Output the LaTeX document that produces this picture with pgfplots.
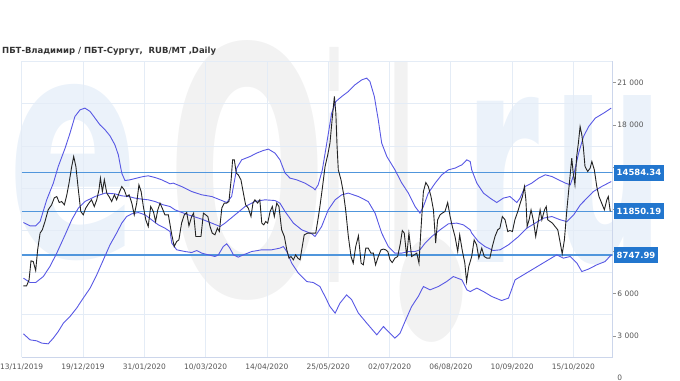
\documentclass[border=0pt]{standalone}
\usepackage{pgfplots}
\pgfplotsset{compat=1.18}
\usepackage{graphicx}
\usepackage{fontspec}
\setmainfont{DejaVu Sans}
\definecolor{bandc}{RGB}{88,88,228}
\definecolor{hlc}{RGB}{80,150,220}
\definecolor{boxc}{RGB}{34,118,206}
\definecolor{gridc}{RGB}{228,236,246}
\definecolor{axc}{RGB}{204,214,235}
\definecolor{wmb}{RGB}{235,242,250}
\definecolor{wmg}{RGB}{242,242,242}
\definecolor{lblc}{RGB}{85,85,85}
\definecolor{pricec}{RGB}{35,35,35}
\begin{document}
\begin{tikzpicture}[x=1bp,y=1bp]
\path[use as bounding box] (0,0) rectangle (680,380);
% watermark
\node[text=wmb, inner sep=0] at (74,207) {\resizebox{132bp}{172bp}{\bfseries e}};
\node[text=wmg, inner sep=0] at (248,210) {\resizebox{160bp}{255bp}{\bfseries O}};
\node[text=wmg, inner sep=0] at (334,215) {\resizebox{18bp}{235bp}{\bfseries i}};
\node[text=wmg, inner sep=0] at (401,224) {\resizebox{26bp}{190bp}{\bfseries l}};
\node[text=wmg, inner sep=0] at (432,90) {\resizebox{72bp}{88bp}{●}};
\node[text=wmb, inner sep=0] at (502,200) {\resizebox{75bp}{165bp}{\bfseries r}};
\node[text=wmb, inner sep=0] at (609,200) {\resizebox{112bp}{165bp}{\bfseries u}};
\node[anchor=west, inner sep=0, text={rgb,255:red,51;green,51;blue,51}, font=\fontsize{8.5}{10}\selectfont\bfseries] at (2,329) {ПБТ-Владимир / ПБТ-Сургут,\ \ RUB/MT ,Daily};
\begin{axis}[
  at={(21.7bp,23bp)}, anchor=south west, scale only axis,
  width=591bp, height=295.5bp,
  xmin=0, xmax=241, ymin=1500, ymax=22500,
  clip mode=individual,
  axis x line*=bottom, axis y line*=right,
  axis line style={draw=axc, line width=0.8bp},
  xtick={0,25,50,75,100,125,150,175,200,225},
  xticklabels={13/11/2019,19/12/2019,31/01/2020,10/03/2020,14/04/2020,25/05/2020,02/07/2020,06/08/2020,10/09/2020,15/10/2020},
  xtick style={draw=none},
  xmajorgrids,
  scaled y ticks=false,
  ytick={3000,6000,9000,12000,15000,18000,21000},
  yticklabels={3 000,6 000,,,,18 000,21 000},
  minor ytick={4500,7500,10500,13500,16500,19500,22500},
  yminorgrids, ymajorgrids=false,
  minor tick length=0pt,
  grid style={draw=gridc, line width=0.8bp},
  minor grid style={draw=gridc, line width=0.8bp},
  ytick pos=right, yticklabel pos=right,
  tick align=outside, major tick length=3bp,
  ytick style={draw={rgb,255:red,150;green,150;blue,150}, line width=0.6bp},
  ticklabel style={font=\fontsize{7.5}{9}\selectfont, text=lblc},
  yticklabel style={anchor=west, inner xsep=1.5bp},
  xticklabel style={inner ysep=4bp},
]
\addplot[hlc, line width=1.1bp] coordinates {(0,14584.34) (241,14584.34)};
\addplot[hlc, line width=1.1bp] coordinates {(0,11850.19) (241,11850.19)};
\addplot[hlc, line width=1.1bp] coordinates {(0,8747.99) (241,8747.99)};
% upper band
\addplot[bandc, line width=0.9bp] coordinates {
(0.7,11057)(3.4,10822)(5.7,10822)(7.5,11128)(10.2,12670)(12.9,13857)(14.9,15037)(17.7,16344)(19.7,17411)(21.7,18590)(23.8,19066)(25.8,19187)(27.9,18945)(29.9,18476)(31.9,18000)(34,17645)(36,17218)(38,16579)(39.4,15868)(40.8,14567)(42.1,14042)(44.2,14092)(46.9,14212)(49.6,14326)(51.6,14376)(54.4,14255)(57.1,14092)(60.5,13807)(61.8,13857)(65.2,13615)(69.3,13260)(73.4,13026)(77.5,12905)(80.9,12670)(83.6,12479)(85.6,12905)(87.7,14922)(89.7,15513)(93.1,15747)(95.8,15989)(98.5,16174)(100.6,16273)(103.3,15989)(105.3,15513)(107.4,14567)(109.4,14212)(112.1,14092)(115.5,13857)(118.9,13502)(119.6,13381)(120.9,13736)(122.6,14802)(124.4,16699)(126.4,18832)(128.1,19656)(130.5,20012)(133.2,20367)(135.9,20843)(138.7,21198)(140.7,21319)(142,21078)(143.8,20012)(145.4,18355)(146.8,16699)(148.9,15747)(152.2,14802)(155,13857)(157.7,13146)(160.4,12194)(162.4,11725)(163.8,12194)(165.8,13146)(168.6,13857)(171.3,14447)(174,14802)(176.7,14922)(179.5,15157)(181.5,15513)(182.9,15392)(183.5,14802)(185.6,13857)(188.3,13146)(191,12791)(193.7,12479)(196.4,12791)(199.1,12905)(201.9,12479)(203.2,12791)(205.3,13615)(208,13857)(210.8,14212)(213.5,14447)(216.2,14326)(218.9,14092)(221.7,13857)(223.7,13736)(225.1,14447)(227.1,15989)(229.1,17168)(231.2,17879)(233.9,18476)(237.3,18832)(240.4,19187)};
% middle band
\addplot[bandc, line width=0.9bp] coordinates {
(0.7,7105)(3.4,6793)(5.7,6793)(8.8,7218)(11.5,7929)(14.3,8882)(17.7,10183)(20.4,11249)(23.1,12080)(25.8,12551)(29.9,12905)(34,13146)(38,13096)(40.8,12954)(43.5,12905)(46.2,12791)(48.9,12720)(51.6,12670)(54.4,12550)(57.7,12315)(60.5,12194)(62.5,11959)(67.9,11604)(73.4,11298)(77.5,11014)(80.9,10773)(82.9,11014)(87,11604)(91.1,12194)(95.1,12550)(99.2,12670)(103.3,12620)(105.3,12435)(107.4,11839)(110.8,11014)(114.2,10538)(118.3,10254)(119.6,10062)(122.3,10773)(125,11959)(127.8,12670)(130.5,13026)(133.2,13146)(137.3,12905)(141.3,12550)(144.1,11725)(146.8,10303)(149.5,9351)(152.2,8882)(155,8882)(157.7,8996)(160.4,8996)(162.4,9117)(164.5,9592)(167.2,10062)(170.6,10538)(174,10965)(177.4,11014)(180.1,10893)(182.9,10538)(183.5,10303)(186.2,9707)(188.9,9351)(192.3,9067)(195.1,9117)(198.5,9472)(202.6,10062)(206,10659)(209.4,11014)(212.8,11369)(216.2,11483)(219.6,11249)(222.3,11128)(225.1,11604)(227.8,12315)(230.5,12791)(233.1,13260)(236.5,13615)(240.4,13970)};
% lower band
\addplot[bandc, line width=0.9bp] coordinates {
(0.7,3147)(3.4,2720)(6.1,2649)(8.2,2486)(10.8,2436)(12.9,2841)(14.9,3310)(17,3907)(19.7,4377)(22.4,4973)(25.1,5684)(27.9,6395)(30.6,7339)(33.3,8406)(36,9472)(38.7,10303)(40.8,11014)(42.8,11483)(44.9,11675)(47.6,11767)(50.3,11604)(53,11249)(55.7,10893)(58.4,10659)(60.5,10418)(61.2,9592)(63.2,9117)(66.6,8996)(69.3,8925)(71.4,9067)(73.4,8882)(76.1,8761)(78.8,8641)(80.2,8761)(82.2,9351)(83.6,9543)(84.9,9237)(86.3,8761)(88.3,8598)(90.4,8761)(93.8,8996)(97.9,9117)(101.9,9117)(105.3,9237)(106.7,9351)(108.1,8996)(110.1,8171)(112.8,7461)(116.2,6864)(118.9,6793)(121.6,6509)(123.7,5798)(125.7,5087)(127.8,4618)(129.8,5329)(132.5,5918)(134.6,5563)(137.3,4618)(140.7,3907)(144.8,3076)(147.5,3666)(149.5,3310)(152.2,2841)(154.3,3196)(156.3,4020)(159,5087)(161.7,5798)(163.8,6509)(166.5,6273)(169.9,6509)(173.3,6864)(176,7218)(179.5,6984)(181.5,6273)(182.9,6153)(185.6,6394)(188.3,6153)(191.7,5798)(195.7,5513)(198.5,5684)(201.2,6984)(204.6,7339)(208,7695)(211.4,8050)(214.8,8406)(218.2,8761)(220.9,8527)(223.7,8641)(226.4,8171)(228.4,7574)(231.1,7745)(234.5,8050)(237.9,8285)(240.4,8761)};
% price
\addplot[pricec, line width=0.9bp] coordinates {
(0.7,6560)(2,6560)(3,6980)(3.8,8335)(4.7,8285)(5.7,7645)(6.5,9117)(7.5,10303)(8.4,10538)(9.5,11128)(10.8,11959)(12.2,12315)(13.3,12813)(14.3,12905)(15.3,12479)(16.3,12550)(17.4,12315)(18.4,13026)(19.3,13857)(20.4,15037)(21.2,15747)(22.1,15037)(23.1,13381)(24.1,11839)(25.1,11604)(26.1,12080)(27.4,12435)(28.5,12670)(29.6,12194)(30.6,12670)(31.5,13381)(32.1,14212)(32.9,13260)(33.7,14092)(34.7,13146)(35.6,12905)(36.7,12550)(37.8,13026)(38.7,12670)(39.7,13146)(40.8,13615)(41.8,13381)(42.8,12905)(43.8,13026)(44.9,12435)(45.9,11604)(46.9,12435)(47.8,13736)(48.7,13260)(49.6,12194)(50.6,11249)(51.6,10773)(52.6,12194)(53.7,11839)(54.6,11128)(55.5,11959)(56.4,12435)(57.3,12080)(58.4,11604)(59.8,11604)(61.2,10183)(62.2,9351)(63.2,9707)(64.1,9827)(65.2,11014)(66.3,11604)(67.3,11767)(68.2,10822)(69.3,11483)(70.1,11725)(71,10062)(72,10062)(73.1,10062)(74.1,11725)(75,11604)(75.9,11483)(76.8,10773)(77.7,10303)(78.8,10183)(79.8,10660)(80.6,10418)(81.6,12080)(82.6,12435)(83.6,12435)(84.5,12550)(85.4,14092)(86,15513)(86.7,15513)(87.5,14567)(88.3,14447)(89.4,14092)(90.4,13146)(91.3,12315)(92.4,12080)(93.5,11483)(94.3,12435)(95.1,12670)(96.2,12435)(97.1,12670)(97.9,11014)(98.7,10893)(99.5,11128)(100.3,11014)(101.3,11839)(102.2,12194)(103,11483)(104,12435)(104.9,12194)(106,10538)(107.1,10062)(108.1,9117)(109,8527)(109.8,8641)(110.8,8406)(111.7,8761)(112.6,8527)(113.5,8406)(114.4,9351)(115.2,10183)(116.6,10303)(118.3,10303)(119.9,10303)(121,11483)(121.6,12194)(122.6,13502)(123.7,15037)(124.8,15868)(125.7,16699)(126.7,18590)(127.5,20012)(128.1,18832)(128.6,16458)(129.1,14802)(130.2,14092)(131.2,13146)(132.1,11959)(133.2,10062)(134.3,8641)(135.2,8171)(136.2,9351)(137.3,10112)(138.4,8171)(139.3,8050)(140.3,9237)(141.3,9237)(142.4,8882)(143.4,8882)(144.3,8050)(145.4,8641)(146.5,9117)(147.5,9166)(148.4,9117)(149.3,8996)(150.2,8406)(151.1,8214)(152.2,8527)(153.3,8641)(154.3,9472)(155.2,10488)(156,10303)(157,8641)(157.9,10303)(159,8641)(160.1,8761)(161.1,8882)(162,8171)(162.8,10538)(163.8,13260)(164.8,13900)(165.8,13615)(166.9,12905)(167.9,11959)(168.8,9592)(169.6,11249)(170.6,11604)(171.5,11725)(172.6,11839)(173.7,12479)(174.7,11483)(175.6,10773)(176.7,10062)(177.8,8996)(178.6,10183)(179.6,9117)(180.7,8171)(181.4,6864)(182.3,7930)(183.5,8641)(184.5,9827)(185.5,9472)(186.4,8527)(187.6,9237)(188.6,8641)(189.7,8527)(190.9,8527)(191.9,9351)(193,10062)(194.1,10538)(195,10659)(196,11483)(197.1,11249)(198.2,10418)(199.1,10488)(200.1,10418)(201.1,11249)(202.3,11839)(203.3,12435)(204.2,12905)(205,13615)(205.6,12670)(206.1,10773)(206.9,11249)(207.7,11959)(208.6,11249)(209.6,10062)(210.4,10893)(211.4,11959)(212.1,11249)(213.2,11959)(213.9,12194)(214.5,11249)(215.5,11128)(216.4,11014)(217.5,10773)(218.6,10538)(219.5,9707)(220.4,8832)(221.3,9827)(222.3,11959)(223.2,13615)(224.3,15634)(224.9,14567)(225.6,13736)(226.3,15747)(227,16699)(227.7,17879)(228.4,17289)(229,16458)(229.7,15037)(230.8,14681)(231.8,14922)(232.5,15392)(233.5,14802)(234.5,13615)(235.4,12905)(236.5,12435)(237.6,11959)(238.6,12670)(239.2,12905)(240,11850)};
% value boxes
\node[fill=boxc, text=white, anchor=west, inner xsep=2.5bp, inner ysep=0pt, minimum height=16bp, xshift=1.3bp, font=\fontsize{8.5}{10}\selectfont\bfseries] at (axis cs:241,14584.34) {14584.34};
\node[fill=boxc, text=white, anchor=west, inner xsep=2.5bp, inner ysep=0pt, minimum height=16bp, xshift=1.3bp, font=\fontsize{8.5}{10}\selectfont\bfseries] at (axis cs:241,11850.19) {11850.19};
\node[fill=boxc, text=white, anchor=west, inner xsep=2.5bp, inner ysep=0pt, minimum height=16bp, xshift=1.3bp, font=\fontsize{8.5}{10}\selectfont\bfseries] at (axis cs:241,8747.99) {8747.99};
\node[anchor=west, inner xsep=1.5bp, xshift=3bp, text=lblc, font=\fontsize{7.5}{9}\selectfont] at (axis cs:241,0) {0};
\end{axis}
\end{tikzpicture}
\end{document}
